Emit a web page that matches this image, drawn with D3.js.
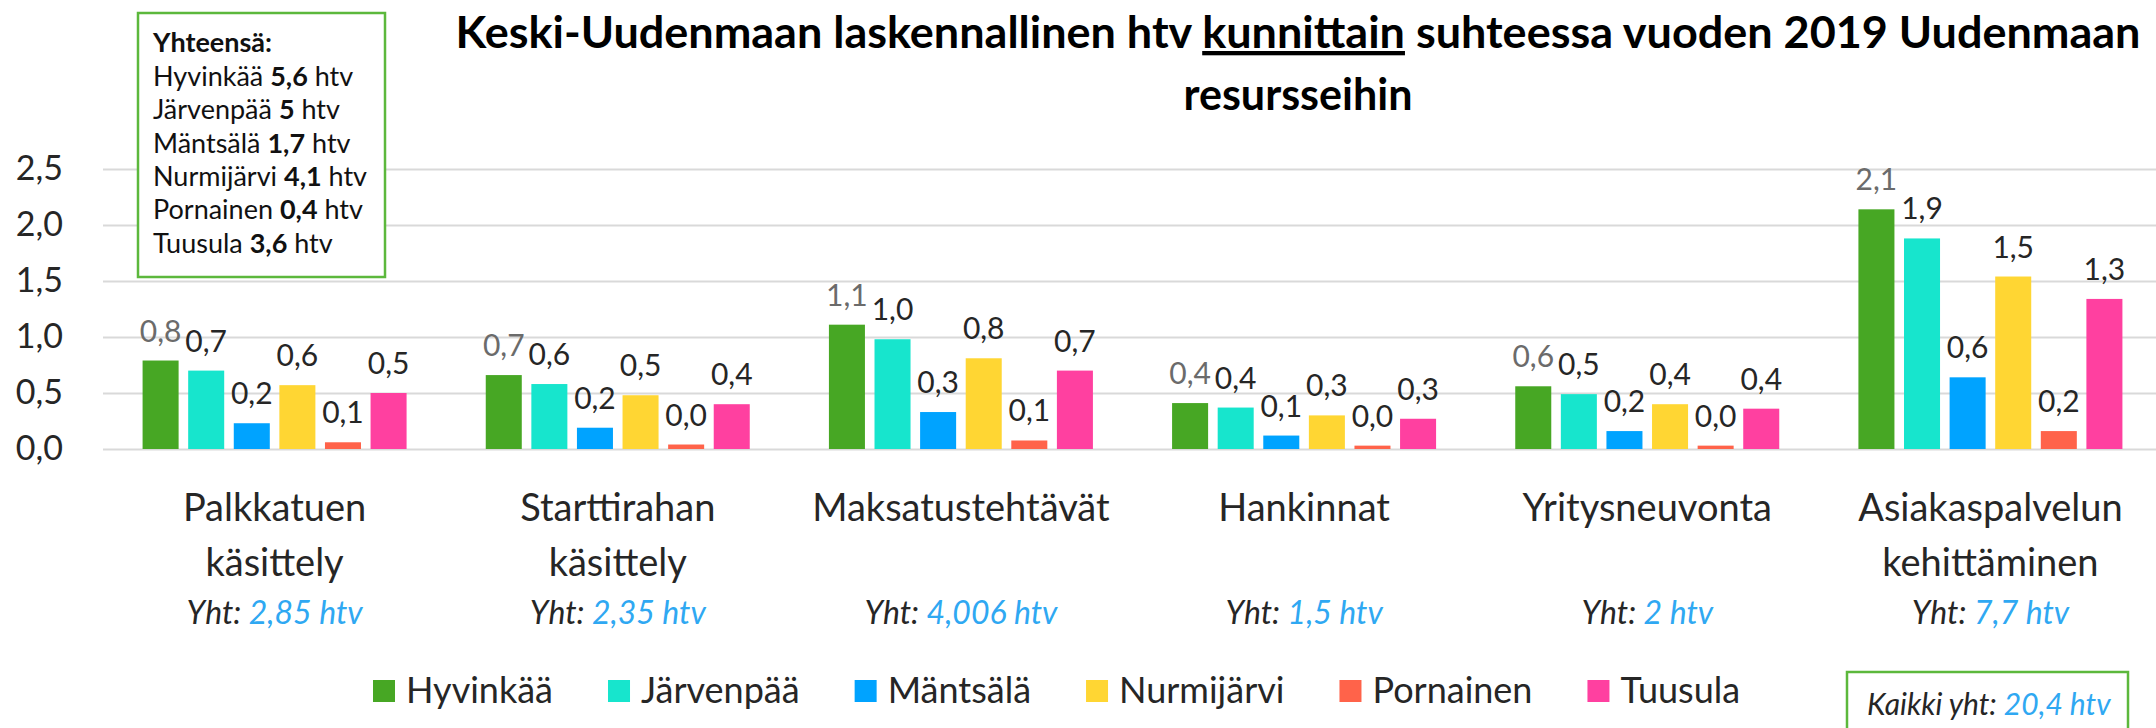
<!DOCTYPE html>
<html>
<head>
<meta charset="utf-8">
<script src="https://cdn.jsdelivr.net/npm/d3@7"></script>
<style>
  body { margin: 0; background: #fff; }
  svg { display: block; font-family: Lato, 'Open Sans', sans-serif; }
</style>
</head>
<body>
<svg id="chart"></svg>
<script>
// DATA
const categories = [
  ['Palkkatuen', 'käsittely'],
  ['Starttirahan', 'käsittely'],
  ['Maksatustehtävät'],
  ['Hankinnat'],
  ['Yritysneuvonta'],
  ['Asiakaspalvelun', 'kehittäminen'],
];
const municipalities = ['Hyvinkää', 'Järvenpää', 'Mäntsälä', 'Nurmijärvi', 'Pornainen', 'Tuusula'];

const hyvinkaa = [0.79, 0.66, 1.11, 0.41, 0.56, 2.14];
const jarvenpaa = [0.7, 0.58, 0.98, 0.37, 0.49, 1.88];
const mantsala = [0.23, 0.19, 0.33, 0.12, 0.16, 0.64];
const nurmijarvi = [0.57, 0.48, 0.81, 0.3, 0.4, 1.54];
const pornainen = [0.06, 0.04, 0.076, 0.03, 0.03, 0.16];
const tuusula = [0.5, 0.4, 0.7, 0.27, 0.36, 1.34];

const categoryTotals = ['2,85', '2,35', '4,006', '1,5', '2', '7,7'];
const municipalityTotals = ['5,6', '5', '1,7', '4,1', '0,4', '3,6'];
const grandTotal = '20,4';
const yTicks = [0, 0.5, 1, 1.5, 2, 2.5];

const colors = ['#47a724', '#17e5cd', '#00a3ff', '#ffd633', '#ff634a', '#ff40a0'];
const blue = '#2fa8f2';
const textColor = '#262626';

//SETUP
const width = 2156;
const height = 728;
const svg = d3.select('#chart').attr('width', width).attr('height', height);

const series = [hyvinkaa, jarvenpaa, mantsala, nurmijarvi, pornainen, tuusula];
const data = categories.map((c, i) =>
  municipalities.map((m, j) => ({ name: m, value: series[j][i], idx: j }))
);

const fmt = (v) => d3.format('.1f')(v).replace('.', ',');

//SCALE AND AXIS
const x0 = d3.scaleBand().domain(d3.range(categories.length)).range([103, 2162]);
const groupWidth = 264;
const x1 = d3.scaleBand().domain(municipalities).range([0, groupWidth]).paddingInner(0.21);
const y = d3.scaleLinear().domain([0, 2.5]).range([449, 169]);

const yAxis = d3
  .axisLeft(y)
  .tickValues(yTicks)
  .tickSize(-(width - 103))
  .tickPadding(40)
  .tickFormat(fmt);

const yG = svg.append('g').attr('transform', 'translate(103,0)').call(yAxis);
yG.select('.domain').remove();
yG.selectAll('.tick line').attr('stroke', '#d9d9d9').attr('stroke-width', 2);
yG.selectAll('.tick text')
  .attr('fill', textColor)
  .style('font-size', '34px')
  .style('font-family', 'Lato, sans-serif');

//BARS
const groups = svg
  .selectAll('.group')
  .data(data)
  .enter()
  .append('g')
  .classed('group', true)
  .attr('transform', (d, i) => `translate(${x0(i) + (x0.bandwidth() - groupWidth) / 2},0)`);

groups
  .selectAll('rect')
  .data((d) => d)
  .enter()
  .append('rect')
  .attr('x', (d) => x1(d.name))
  .attr('y', (d) => y(d.value))
  .attr('width', x1.bandwidth())
  .attr('height', (d) => y(0) - y(d.value))
  .attr('fill', (d) => colors[d.idx]);

groups
  .selectAll('.val')
  .data((d) => d)
  .enter()
  .append('text')
  .classed('val', true)
  .attr('x', (d) => x1(d.name) + x1.bandwidth() / 2)
  .attr('y', (d) => y(d.value) - 19)
  .attr('text-anchor', 'middle')
  .style('font-size', '30px')
  .attr('fill', (d) => (d.idx === 0 ? '#6b6b6b' : textColor))
  .text((d) => fmt(d.value));

//CATEGORY LABELS
const catG = svg
  .selectAll('.cat')
  .data(categories)
  .enter()
  .append('g')
  .classed('cat', true)
  .attr('transform', (d, i) => `translate(${x0(i) + x0.bandwidth() / 2},0)`);

catG
  .selectAll('text.line')
  .data((d) => d)
  .enter()
  .append('text')
  .classed('line', true)
  .attr('x', 0)
  .attr('y', (d, i) => 521 + i * 55)
  .attr('text-anchor', 'middle')
  .attr('fill', textColor)
  .style('font-size', '38px')
  .text((d) => d);

const yht = catG
  .append('text')
  .attr('x', 0)
  .attr('y', 624)
  .attr('text-anchor', 'middle')
  .style('font-size', '32px')
  .style('font-style', 'italic');
yht.append('tspan').attr('fill', textColor).text('Yht: ');
yht.append('tspan').attr('fill', blue).text((d, i) => `${categoryTotals[i]} htv`);

//TITLE
const title = svg
  .append('text')
  .attr('x', 1298)
  .attr('y', 48)
  .attr('text-anchor', 'middle')
  .attr('textLength', 1685)
  .attr('lengthAdjust', 'spacingAndGlyphs')
  .style('font-size', '43px')
  .style('font-weight', 'bold')
  .attr('fill', '#000');
title.append('tspan').text('Keski-Uudenmaan laskennallinen htv ');
title.append('tspan').style('text-decoration', 'underline').text('kunnittain');
title.append('tspan').text(' suhteessa vuoden 2019 Uudenmaan');

svg
  .append('text')
  .attr('x', 1298)
  .attr('y', 110)
  .attr('text-anchor', 'middle')
  .attr('textLength', 229)
  .attr('lengthAdjust', 'spacingAndGlyphs')
  .style('font-size', '43px')
  .style('font-weight', 'bold')
  .attr('fill', '#000')
  .text('resursseihin');

//TOTALS BOX
svg
  .append('rect')
  .attr('x', 138)
  .attr('y', 13)
  .attr('width', 247)
  .attr('height', 264)
  .attr('fill', '#fff')
  .attr('stroke', '#5cb83c')
  .attr('stroke-width', 2.5);

svg
  .append('text')
  .attr('x', 153)
  .attr('y', 52)
  .style('font-size', '27px')
  .style('font-weight', 'bold')
  .attr('fill', '#111')
  .text('Yhteensä:');

const boxLines = svg
  .selectAll('.boxLine')
  .data(municipalities)
  .enter()
  .append('text')
  .classed('boxLine', true)
  .attr('x', 153)
  .attr('y', (d, i) => 86 + i * 33.3)
  .style('font-size', '27px')
  .attr('fill', '#111');
boxLines.append('tspan').text((d) => d + ' ');
boxLines.append('tspan').style('font-weight', 'bold').text((d, i) => municipalityTotals[i]);
boxLines.append('tspan').text(' htv');

//LEGEND
const legend = svg.append('g').classed('legend', true);
let lx = 373;
municipalities.forEach((m, i) => {
  legend
    .append('rect')
    .attr('x', lx)
    .attr('y', 680)
    .attr('width', 22)
    .attr('height', 22)
    .attr('fill', colors[i]);
  const t = legend
    .append('text')
    .attr('x', lx + 33)
    .attr('y', 703)
    .style('font-size', '36px')
    .attr('fill', textColor)
    .text(m);
  lx += 33 + t.node().getComputedTextLength() + 55;
});

//GRAND TOTAL
svg
  .append('rect')
  .attr('x', 1847)
  .attr('y', 672)
  .attr('width', 281)
  .attr('height', 80)
  .attr('fill', '#fff')
  .attr('stroke', '#5cb83c')
  .attr('stroke-width', 2.5);

const grand = svg
  .append('text')
  .attr('x', 1867)
  .attr('y', 715)
  .style('font-size', '30px')
  .style('font-style', 'italic');
grand.append('tspan').attr('fill', textColor).text('Kaikki yht: ');
grand.append('tspan').attr('fill', blue).text(`${grandTotal} htv`);
</script>
</body>
</html>
